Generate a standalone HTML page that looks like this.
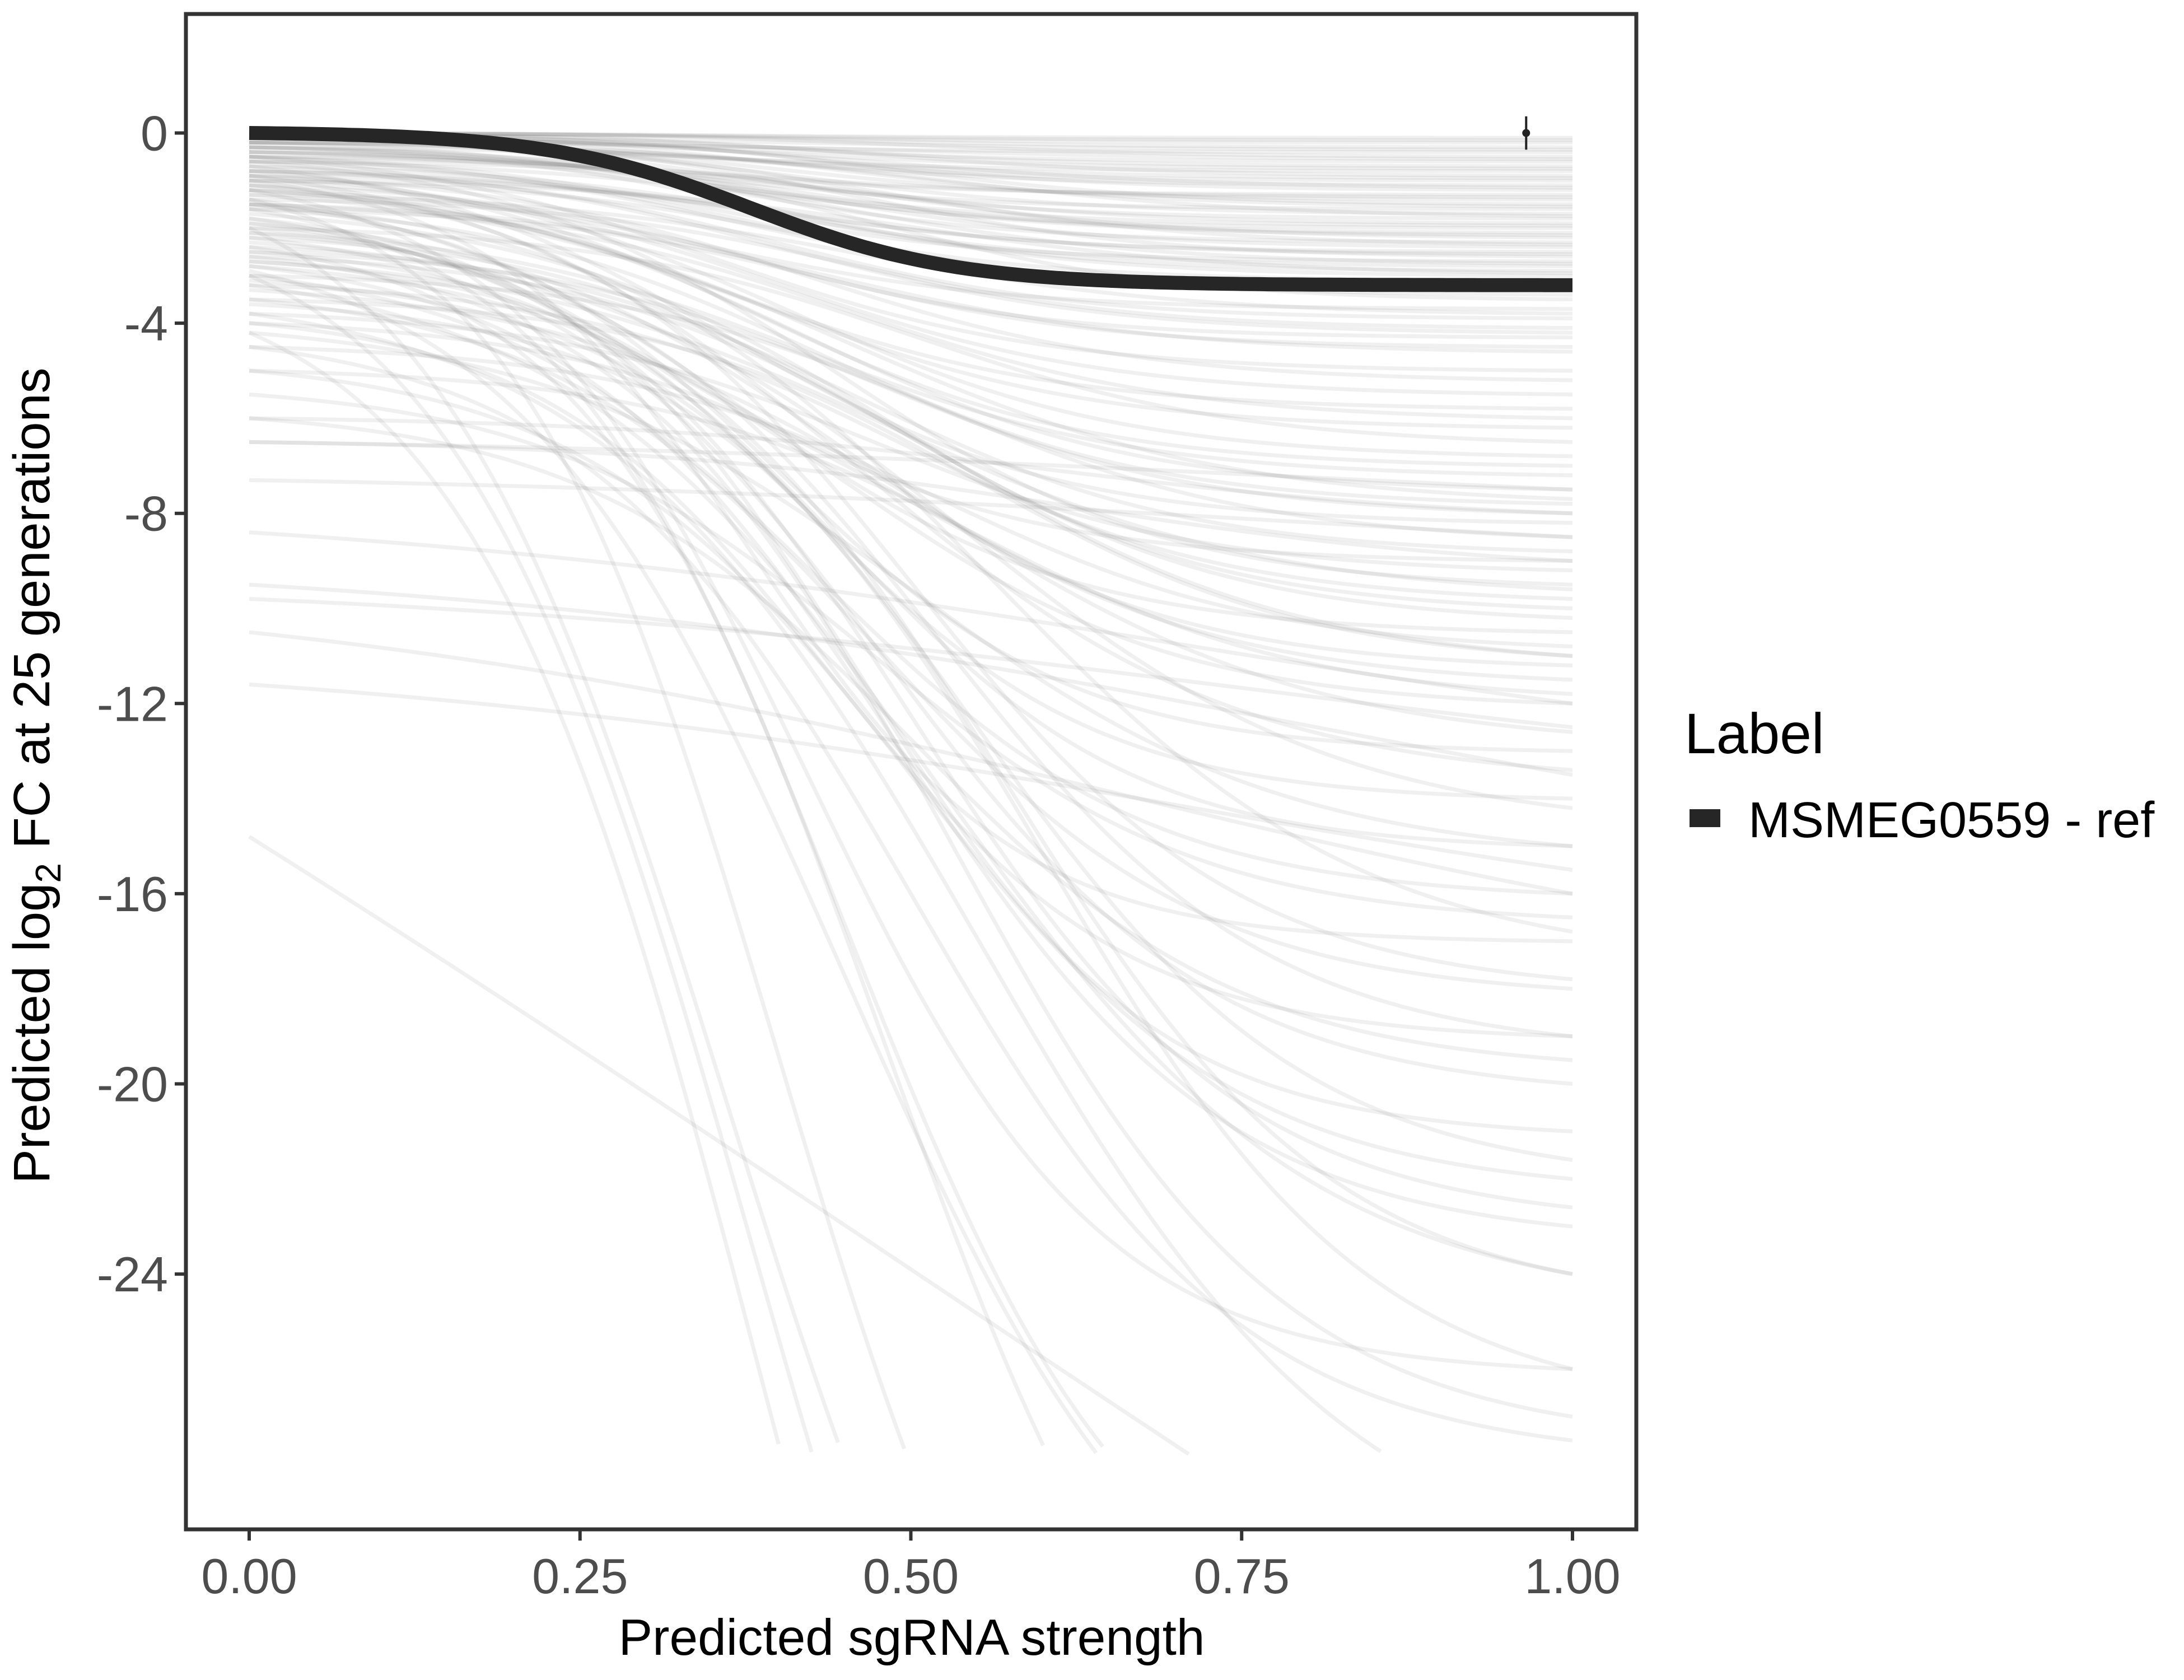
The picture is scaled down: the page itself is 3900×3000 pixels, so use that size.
<!DOCTYPE html>
<html><head><meta charset="utf-8"><style>
html,body{margin:0;padding:0;background:#fff;}
svg{display:block;font-family:"Liberation Sans",sans-serif;}
</style></head><body>
<svg id="chart" width="3900" height="3000" viewBox="0 0 3900 3000">
<g id="curves"></g>
<g id="main"></g>
<rect x="332" y="25" width="2590" height="2706" fill="none" stroke="#333" stroke-width="7"/>
<g id="xticks"></g>
<g id="yticks"></g>
<text x="1628" y="2955" font-size="91" text-anchor="middle" fill="#000">Predicted sgRNA strength</text>
<text transform="translate(88,1385) rotate(-90)" font-size="92" text-anchor="middle" fill="#000">Predicted  log<tspan font-size="64" dy="20">2</tspan><tspan dy="-20"> FC at 25 generations</tspan></text>
<text x="3008" y="1345" font-size="102" fill="#000">Label</text>
<rect x="3017" y="1445" width="55" height="32" fill="#262626"/>
<text x="3122" y="1495" font-size="90" fill="#000">MSMEG0559 - ref</text>
</svg>
<script>
const curveStart=[0,0,0,-0.1,0,-0.1,0,-0.2,0,-0.1,-0.2,0,-0.3,-0.1,0,-0.4,-0.2,-0.1,-0.5,0,-0.3,-0.6,-0.2,-0.4,-0.7,-0.1,-0.5,-0.8,-0.3,-0.9,-0.6,-1.0,-0.4,-1.2,-0.8,-1.4,-1.1,-1.6,
0,-0.1,-0.2,0,-0.3,-0.1,-0.5,0,-0.2,-0.4,-0.6,-0.1,-0.8,-0.3,-1.0,-0.5,-1.3,-0.7,-1.5,-0.9,
-0.5,-1.0,-1.5,-2.0,-0.8,-1.2,-2.5,-3.0,-1.8,-0.6,-2.2,-1.4,-3.5,-4.0,-2.8,-1.1,-0.9,-1.6,-2.4,-3.2,-4.5,-5.0,-1.3,-2.1,-0.7,-3.8,-2.6,-1.9,-6.0,-6.5,
-1.2,-2.7,-1.7,-3.3,-0.9,-2.3,-4.2,-1.5,
-1.5,-2.0,-2.5,-3.0,-1.0,-3.5,-4.0,-2.2,-1.8,-5.0,-2.8,-3.2,-1.2,-4.5,-2.6,-3.8,-1.6,-2.4,-5.5,-6.0,-2.0,-3.0,-1.4,-4.2,-2.9,
-1.1,-2.1,-3.1,-1.9,-2.7,-3.6,
-6.5,-7.3,-8.4,-9.5,-9.8,-11.6,-10.5,-14.8];
const curveEnd=[-0.1,-0.2,-0.3,-0.4,-0.5,-0.6,-0.7,-0.8,-0.9,-1.0,-1.1,-1.2,-1.3,-1.4,-1.5,-1.6,-1.7,-1.8,-1.9,-2.0,-2.1,-2.2,-2.3,-2.4,-2.5,-2.6,-2.7,-2.8,-2.9,-3.0,-3.1,-3.3,-3.5,-3.7,-3.9,-4.1,-4.3,-4.5,
-0.15,-0.35,-0.55,-0.75,-0.95,-1.15,-1.35,-1.55,-1.75,-1.95,-2.15,-2.35,-2.55,-2.75,-2.95,-3.4,-3.8,-4.2,-4.6,-5.2,
-5.0,-5.5,-6.0,-6.5,-7.0,-7.5,-8.0,-8.5,-9.0,-9.5,-10.0,-10.5,-11.0,-11.5,-12.0,-5.8,-6.8,-7.8,-8.8,-9.8,-10.8,-11.8,-6.2,-7.2,-8.2,-9.2,-10.2,-11.2,-8.0,-9.0,
-7.7,-9.6,-11.0,-12.6,-13.4,-14.2,-15.0,-16.8,
-13,-14,-15,-16,-17,-18,-19,-20,-21,-22,-23,-24,-26,-27.5,-27,-29.5,-32,-36,-16.5,-19.5,-40,-45,-38,-50,-33,
-17.8,-19.0,-21.6,-22.6,-24.0,-26.0,
-7.5,-8.5,-12,-13.5,-12.5,-15.5,-16,-33];
const curveMid=[0.35,0.4,0.45,0.3,0.5,0.38,0.42,0.33,0.47,0.36,0.4,0.44,0.31,0.39,0.48,0.35,0.42,0.37,0.45,0.33,0.4,0.5,0.36,0.43,0.38,0.46,0.34,0.41,0.39,0.44,0.37,0.42,0.48,0.35,0.4,0.45,0.38,0.43,
0.4,0.45,0.5,0.35,0.42,0.48,0.38,0.44,0.52,0.36,0.41,0.47,0.39,0.43,0.5,0.37,0.46,0.4,0.44,0.42,
0.35,0.4,0.45,0.5,0.38,0.42,0.47,0.52,0.33,0.44,0.48,0.37,0.55,0.5,0.45,0.36,0.41,0.43,0.46,0.49,0.52,0.55,0.39,0.42,0.36,0.47,0.5,0.44,0.6,0.62,
0.45,0.48,0.5,0.52,0.46,0.54,0.5,0.56,
0.4,0.42,0.45,0.43,0.38,0.47,0.44,0.48,0.46,0.5,0.49,0.52,0.42,0.5,0.53,0.55,0.45,0.48,0.47,0.5,0.36,0.38,0.4,0.39,0.45,
0.5,0.52,0.55,0.5,0.57,0.6,
0.8,0.8,0.7,0.8,0.75,0.7,0.65,0.5];
const curveSteep=[9,9,9,9,9,9,9,9,9,9,9,9,9,9,9,9,9,9,9,9,9,9,9,9,9,9,9,9,9,9,9,9,9,9,9,9,9,9,
8,8,8,8,8,8,8,8,8,8,8,8,8,8,8,8,8,8,8,8,
8,8,8,8,8,8,8,8,8,8,8,8,8,8,8,8,8,8,8,8,8,8,8,8,8,8,8,8,6,6,
7,7,7,7,7,7,7,7,
9,9,9,8,10,8,9,8,9,8,8,7,9,8,8,7,9,9,8,8,9,9,10,9,8,
8,8,8,8,8,8,
3,3,3,3,3,3,3,1];
const refStart=0, refEnd=-3.2, refMid=0.38, refSteep=13;
const errX=[0.965], errY=[0], errLo=[-0.35], errHi=[0.35];
const xTicks=[0,0.25,0.5,0.75,1.0], xTickLabels=["0.00","0.25","0.50","0.75","1.00"];
const yTicks=[0,-4,-8,-12,-16,-20,-24], yTickLabels=["0","-4","-8","-12","-16","-20","-24"];
const X=v=>445+v*2363;
const Y=v=>237.5-v*84.9;
const NS="http://www.w3.org/2000/svg";
const sig=t=>1/(1+Math.exp(-t));
function curveVal(a,b,m,k,x){const s0=sig(-k*m),s1=sig(k*(1-m));return a+(b-a)*(sig(k*(x-m))-s0)/(s1-s0);}
function pathFor(a,b,m,k,clip){let d="";for(let i=0;i<=200;i++){const x=i/200;const y=curveVal(a,b,m,k,x);if(y<clip)break;d+=(i?"L":"M")+X(x).toFixed(1)+","+Y(y).toFixed(1);}return d;}
const cg=document.getElementById("curves");
for(let i=0;i<curveStart.length;i++){
 const p=document.createElementNS(NS,"path");
 p.setAttribute("d",pathFor(curveStart[i],curveEnd[i],curveMid[i],curveSteep[i],-27.8));
 p.setAttribute("fill","none");p.setAttribute("stroke","#7a7a7a");p.setAttribute("stroke-opacity","0.11");p.setAttribute("stroke-width","7");
 
 
 cg.appendChild(p);
}
const mg=document.getElementById("main");
const rp=document.createElementNS(NS,"path");
rp.setAttribute("d",pathFor(refStart,refEnd,refMid,refSteep,-100));
rp.setAttribute("fill","none");rp.setAttribute("stroke","#262626");rp.setAttribute("stroke-width","25");


mg.appendChild(rp);
for(let i=0;i<errX.length;i++){
 const l=document.createElementNS(NS,"line");
 l.setAttribute("x1",X(errX[i]));l.setAttribute("x2",X(errX[i]));l.setAttribute("y1",Y(errLo[i]));l.setAttribute("y2",Y(errHi[i]));
 l.setAttribute("stroke","#222");l.setAttribute("stroke-width","4");
 
 
 mg.appendChild(l);
 const c=document.createElementNS(NS,"circle");
 c.setAttribute("cx",X(errX[i]));c.setAttribute("cy",Y(errY[i]));c.setAttribute("r","7");c.setAttribute("fill","#222");
 
 
 mg.appendChild(c);
}
const xg=document.getElementById("xticks");
xTicks.forEach((v,i)=>{
 const t=document.createElementNS(NS,"line");
 t.setAttribute("x1",X(v));t.setAttribute("x2",X(v));t.setAttribute("y1",2734);t.setAttribute("y2",2751);t.setAttribute("stroke","#333");t.setAttribute("stroke-width","6");
 
 
 xg.appendChild(t);
 const s=document.createElementNS(NS,"text");
 s.setAttribute("x",X(v));s.setAttribute("y",2845);s.setAttribute("font-size","88");s.setAttribute("text-anchor","middle");s.setAttribute("fill","#4d4d4d");
 s.textContent=xTickLabels[i];
 
 
 xg.appendChild(s);
});
const yg=document.getElementById("yticks");
yTicks.forEach((v,i)=>{
 const t=document.createElementNS(NS,"line");
 t.setAttribute("x1",312);t.setAttribute("x2",329);t.setAttribute("y1",Y(v));t.setAttribute("y2",Y(v));t.setAttribute("stroke","#333");t.setAttribute("stroke-width","6");
 
 
 yg.appendChild(t);
 const s=document.createElementNS(NS,"text");
 s.setAttribute("x",300);s.setAttribute("y",Y(v)+31);s.setAttribute("font-size","88");s.setAttribute("text-anchor","end");s.setAttribute("fill","#4d4d4d");
 s.textContent=yTickLabels[i];
 
 
 yg.appendChild(s);
});
</script>
</body></html>
